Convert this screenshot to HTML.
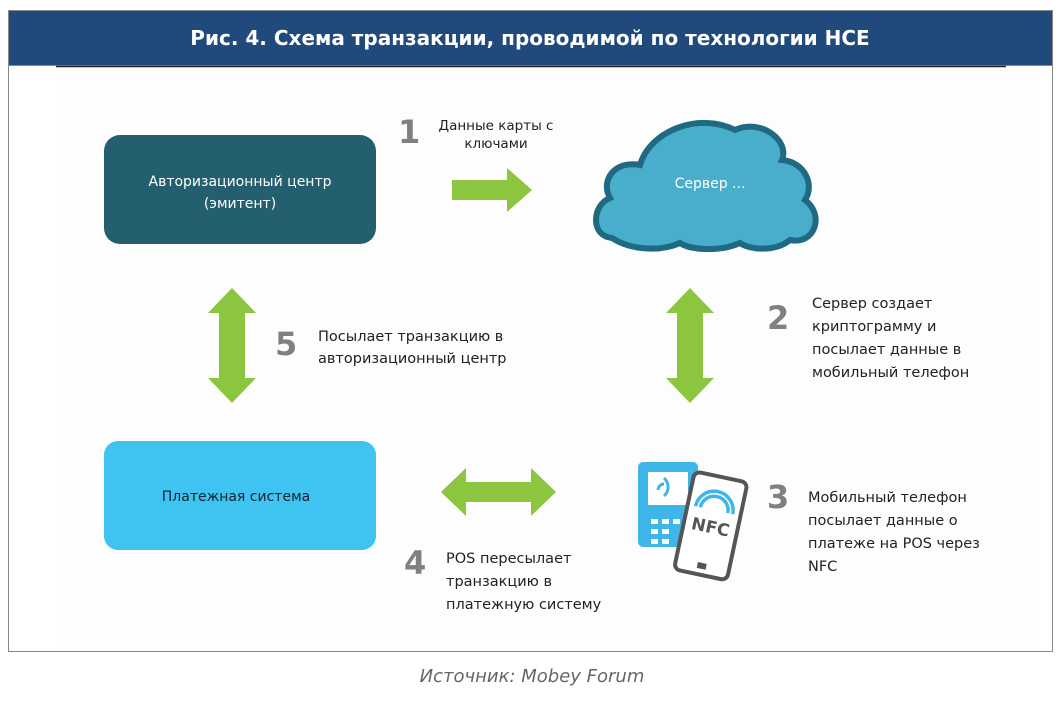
<!DOCTYPE html>
<html><head><meta charset="utf-8"><style>
body{margin:0;width:1061px;height:697px;background:#fff;overflow:hidden;font-family:"DejaVu Sans",sans-serif}
</style></head><body>
<svg width="1061" height="697" xmlns="http://www.w3.org/2000/svg" font-family="DejaVu Sans, sans-serif">
<rect x="8.5" y="10.5" width="1044" height="641" fill="#fff" stroke="#888"/>
<rect x="9" y="11" width="1043" height="54" fill="#214a7c"/>
<line x1="9" y1="65.5" x2="1052" y2="65.5" stroke="#888"/>
<line x1="56" y1="66.5" x2="1006" y2="66.5" stroke="#222" stroke-width="1.5"/>
<rect x="62" y="74" width="978" height="572" fill="#fdfdfd"/>
<text x="530" y="45" text-anchor="middle" fill="#fff" font-size="20" font-weight="bold">Рис. 4. Схема транзакции, проводимой по технологии HCE</text>
<rect x="104" y="135" width="272" height="109" rx="16" fill="#235f6f"/>
<text x="240" y="186" text-anchor="middle" fill="#fff" font-size="14">Авторизационный центр</text>
<text x="240" y="208" text-anchor="middle" fill="#fff" font-size="14">(эмитент)</text>
<rect x="104" y="441" width="272" height="109" rx="14" fill="#3fc3f0"/>
<text x="236" y="501" text-anchor="middle" fill="#123" font-size="14">Платежная система</text>
<path d="M612,238 C590,236 592,205 610,198 C600,180 615,160 640,165 C650,130 700,112 735,130 C760,118 790,140 782,160 C805,162 815,185 805,200 C825,215 815,245 790,240 C775,252 750,250 740,243 C720,252 690,250 680,243 C660,252 630,250 612,238 Z" fill="#49aecb" stroke="#1f6a82" stroke-width="6"/>
<text x="710" y="188" text-anchor="middle" fill="#fff" font-size="14">Сервер ...</text>
<g fill="#8cc63f">
<polygon points="452,180 507,180 507,168 532,190 507,212 507,200 452,200"/>
<polygon points="232,288 256,313 245,313 245,378 256,378 232,403 208,378 219,378 219,313 208,313"/>
<polygon points="690,288 714,313 703,313 703,378 714,378 690,403 666,378 677,378 677,313 666,313"/>
<polygon points="441,492 466,468 466,482 531,482 531,468 556,492 531,516 531,502 466,502 466,516"/>
</g>
<g fill="#808080" font-weight="bold" font-size="32">
<text x="398" y="143">1</text><text x="275" y="355">5</text><text x="767" y="329">2</text><text x="767" y="508">3</text><text x="404" y="574">4</text>
</g>
<g fill="#222" font-size="14.5">
<text x="496" y="130" text-anchor="middle" font-size="13.5">Данные карты с</text>
<text x="496" y="148" text-anchor="middle" font-size="13.5">ключами</text>
<text x="318" y="341">Посылает транзакцию в</text>
<text x="318" y="363">авторизационный центр</text>
<text x="812" y="308">Сервер создает</text>
<text x="812" y="331">криптограмму и</text>
<text x="812" y="354">посылает данные в</text>
<text x="812" y="377">мобильный телефон</text>
<text x="808" y="502">Мобильный телефон</text>
<text x="808" y="525">посылает данные о</text>
<text x="808" y="548">платеже на POS через</text>
<text x="808" y="571">NFC</text>
<text x="446" y="563">POS пересылает</text>
<text x="446" y="586">транзакцию в</text>
<text x="446" y="609">платежную систему</text>
</g>
<path d="M643,462 h50 a5,5 0 0 1 5,5 v83 l-20,-3 h-35 a5,5 0 0 1 -5,-5 v-75 a5,5 0 0 1 5,-5z" fill="#3fb6e8"/>
<rect x="648" y="472" width="40" height="33" fill="#fff"/>
<g fill="#fff"><rect x="651" y="519" width="7" height="5"/><rect x="662" y="519" width="7" height="5"/><rect x="673" y="519" width="7" height="5"/><rect x="651" y="529" width="7" height="5"/><rect x="662" y="529" width="7" height="5"/><rect x="651" y="539" width="7" height="5"/><rect x="662" y="539" width="7" height="5"/></g>
<path d="M658,490 a6,6 0 0 1 6,-6 M664,496 a12,12 0 0 0 0,-18" stroke="#3fb6e8" stroke-width="3" fill="none"/>
<g transform="rotate(12 712 520)">
<rect x="685" y="476" width="54" height="100" rx="6" fill="#fff" stroke="#555" stroke-width="4"/>
<rect x="707" y="564" width="9" height="6" fill="#555"/>
<path d="M698,510 a14,14 0 0 1 28,0 M693,510 a19,19 0 0 1 38,0" stroke="#3fb6e8" stroke-width="3.5" fill="none"/>
<text x="712" y="533" text-anchor="middle" fill="#555" font-weight="bold" font-size="17">NFC</text>
</g>
<text x="532" y="682" text-anchor="middle" fill="#666" font-style="italic" font-size="18">Источник: Mobey Forum</text>
</svg>
</body></html>
